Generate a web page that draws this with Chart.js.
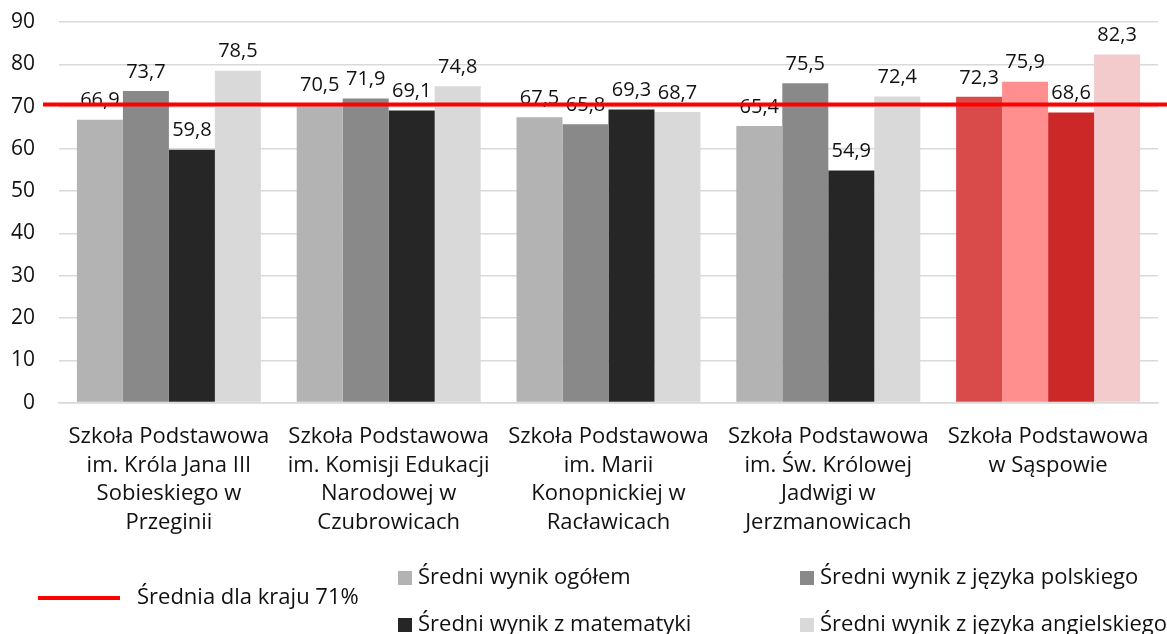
<!DOCTYPE html>
<html>
<head>
<meta charset="utf-8">
<script src="https://cdn.jsdelivr.net/npm/chart.js@4"></script>
<style>
  html, body { margin: 0; padding: 0; background: #fff; overflow: hidden; }
  #wrap { width: 1167px; height: 634px; position: relative; }
</style>
</head>
<body>
<div id="wrap"><canvas id="examChart"></canvas></div>
<script>
// data
const schools = [
    ["Szkoła Podstawowa", "im. Króla Jana III", "Sobieskiego w", "Przeginii"],
    ["Szkoła Podstawowa", "im. Komisji Edukacji", "Narodowej w", "Czubrowicach"],
    ["Szkoła Podstawowa", "im. Marii", "Konopnickiej w", "Racławicach"],
    ["Szkoła Podstawowa", "im. Św. Królowej", "Jadwigi w", "Jerzmanowicach"],
    ["Szkoła Podstawowa", "w Sąspowie"]
];
const seriesNames = [
    "Średni wynik ogółem",
    "Średni wynik z języka polskiego",
    "Średni wynik z matematyki",
    "Średni wynik z języka angielskiego"
];
const overall = [66.9, 70.5, 67.5, 65.4, 72.3];
const polish = [73.7, 71.9, 65.8, 75.5, 75.9];
const maths = [59.8, 69.1, 69.3, 54.9, 68.6];
const english = [78.5, 74.8, 68.7, 72.4, 82.3];
const nationalAvg = 70.5;
const nationalLabel = "Średnia dla kraju 71%";

const grayColors = ["#B3B3B3", "#898989", "#262626", "#D9D9D9"];
const redColors = ["#D94B4B", "#FF8F8F", "#CC2828", "#F3CBCD"];

const FONT = "'Open Sans', sans-serif";
const TEXT = "#111";

function barColors(i) {
    // last school is highlighted in red
    return schools.map((s, j) => j === schools.length - 1 ? redColors[i] : grayColors[i]);
}

const seriesValues = [overall, polish, maths, english];

const valueLabels = {
    id: 'valueLabels',
    afterDatasetsDraw(chart) {
        const ctx = chart.ctx;
        ctx.save();
        ctx.font = "20px " + FONT;
        ctx.fillStyle = TEXT;
        ctx.textAlign = 'center';
        ctx.textBaseline = 'bottom';
        chart.data.datasets.forEach((ds, i) => {
            chart.getDatasetMeta(i).data.forEach((bar, j) => {
                const txt = ds.data[j].toFixed(1).replace('.', ',');
                ctx.fillText(txt, bar.x, bar.y - 9);
            });
        });
        ctx.restore();
    }
};

const avgLine = {
    id: 'avgLine',
    afterDatasetsDraw(chart) {
        const ctx = chart.ctx;
        const y = chart.scales.y.getPixelForValue(nationalAvg);
        ctx.save();
        ctx.strokeStyle = "#FF0000";
        ctx.lineWidth = 4;
        ctx.beginPath();
        ctx.moveTo(43, y);
        ctx.lineTo(chart.width, y);
        ctx.stroke();
        ctx.restore();
    }
};

const customLegend = {
    id: 'customLegend',
    afterDraw(chart) {
        const ctx = chart.ctx;
        ctx.save();
        ctx.font = "22px " + FONT;
        ctx.textBaseline = 'middle';
        ctx.textAlign = 'left';
        ctx.fillStyle = TEXT;

        // national average line entry
        ctx.strokeStyle = "#FF0000";
        ctx.lineWidth = 4;
        ctx.beginPath();
        ctx.moveTo(38, 598);
        ctx.lineTo(120, 598);
        ctx.stroke();
        ctx.fillText(nationalLabel, 137, 598);

        const cols = [398, 800];
        const rows = [578, 625];
        seriesNames.forEach((name, i) => {
            const x = cols[i % 2];
            const y = rows[Math.floor(i / 2)];
            ctx.fillStyle = grayColors[i];
            ctx.fillRect(x, y - 7, 14, 14);
            ctx.fillStyle = TEXT;
            ctx.fillText(name, x + 20, y);
        });
        ctx.restore();
    }
};

const ctx = document.getElementById('examChart').getContext('2d');
new Chart(ctx, {
    type: 'bar',
    data: {
        labels: schools,
        datasets: seriesNames.map((name, i) => ({
            label: name,
            data: seriesValues[i],
            backgroundColor: barColors(i),
            borderWidth: 0,
            categoryPercentage: 0.837,
            barPercentage: 1
        }))
    },
    options: {
        responsive: true,
        maintainAspectRatio: false,
        animation: false,
        layout: {
            padding: { left: 0, right: 9, top: 22, bottom: 85 }
        },
        plugins: {
            legend: { display: false },
            tooltip: { enabled: false }
        },
        scales: {
            x: {
                grid: { display: false },
                border: { color: "#D9D9D9", width: 1.5 },
                ticks: {
                    color: TEXT,
                    font: { family: FONT, size: 22, lineHeight: 1.3 },
                    padding: 12,
                    maxRotation: 0,
                    autoSkip: false
                }
            },
            y: {
                min: 0,
                max: 90,
                grid: { color: "#D9D9D9", lineWidth: 1.5, drawTicks: false },
                border: { display: false },
                afterFit(scale) {
                    scale.width = 59;
                    scale.paddingTop = 0; // top gridline sits at the layout padding
                },
                ticks: {
                    stepSize: 10,
                    color: TEXT,
                    font: { family: FONT, size: 21 },
                    padding: 24
                }
            }
        }
    },
    plugins: [valueLabels, avgLine, customLegend]
});
</script>
</body>
</html>
